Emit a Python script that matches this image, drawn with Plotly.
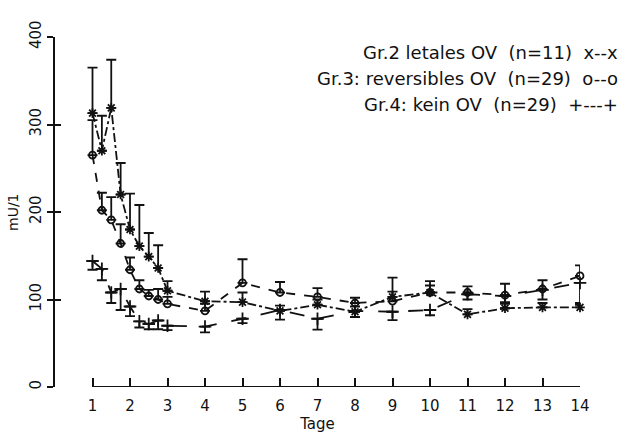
import plotly.graph_objects as go

# Sampling times (days); quarter-day sampling during the first two days
tage = [1, 1.25, 1.5, 1.75, 2, 2.25, 2.5, 2.75, 3, 4, 5, 6, 7, 8, 9, 10, 11, 12, 13, 14]

# Gr.2: letales OV (n=11)
gr2_mean = [313, 270, 319, 220, 180, 161, 149, 136, 110, 98, 97, 87, 94, 86, 103, 108, 83, 90, 91, 91]
gr2_err = [52, 40, 55, 36, 41, 47, 27, 26, 11, 11, 11, 6, 6, 6, 6, 8, 6, 5, 5, 5]

# Gr.3: reversibles OV (n=29)
gr3_mean = [265, 202, 191, 164, 134, 112, 104, 100, 95, 87, 119, 108, 103, 96, 98, 108, 108, 105, 112, 127]
gr3_err = [40, 20, 26, 22, 14, 10, 7, 12, 8, 8, 27, 12, 10, 6, 27, 13, 7, 13, 10, 12]

# Gr.4: kein OV (n=29)
gr4_mean = [144, 135, 108, 112, 92, 75, 72, 76, 70, 69, 78, 88, 78, 87, 86, 88, 106, 104, 111, 119]
gr4_err = [10, 13, 12, 24, 11, 7, 6, 10, 5, 6.5, 5, 11, 12.5, 7, 9.5, 6, 6, 7, 11, 25]

x_ticks = list(range(1, 15))
y_ticks = [0, 100, 200, 300, 400]

legend_lines = [
    "Gr.2 letales OV\u00a0\u00a0(n=11)\u00a0\u00a0x--x",
    "Gr.3: reversibles OV\u00a0\u00a0(n=29)\u00a0\u00a0o--o",
    "Gr.4: kein OV\u00a0\u00a0(n=29)\u00a0\u00a0+---+",
]

INK = "#111111"
FONT = "DejaVu Sans"
LW = 1.8

fig = go.Figure()


def add_series(mean, err, up, dash, symbol, size):
    zeros = [0] * len(err)
    fig.add_trace(go.Scatter(
        x=tage, y=mean, mode="lines+markers",
        line=dict(color=INK, width=LW, dash=dash),
        marker=dict(symbol=symbol, size=size, color=INK,
                    line=dict(color=INK, width=LW)),
        error_y=dict(type="data", symmetric=False,
                     array=err if up else zeros,
                     arrayminus=zeros if up else err,
                     color=INK, thickness=LW, width=5),
        cliponaxis=False, showlegend=False,
    ))


add_series(gr4_mean, gr4_err, False, "longdash", "cross-thin-open", 9)
add_series(gr3_mean, gr3_err, True, "dash", "circle-open", 7)
add_series(gr2_mean, gr2_err, True, "dashdot", "asterisk-open", 8)

# Second copy of the value axis so its ticks cross the axis line
fig.add_trace(go.Scatter(x=[tage[0]], y=[gr2_mean[0]], yaxis="y2",
                         mode="markers", marker=dict(opacity=0),
                         showlegend=False, hoverinfo="skip"))

# Time axis line runs from the first to the last day only
fig.add_shape(type="line", xref="x", yref="y",
              x0=x_ticks[0], x1=x_ticks[-1], y0=y_ticks[0], y1=y_ticks[0],
              line=dict(color=INK, width=2))

for i, txt in enumerate(legend_lines):
    fig.add_annotation(text=txt, xref="paper", yref="paper",
                       x=1.077, y=0.957 - i * 0.075, xanchor="right", yanchor="middle",
                       showarrow=False, font=dict(family=FONT, size=18, color=INK))

# Value axis label
fig.add_annotation(text="mU/1", xref="paper", yref="paper", x=-0.08, y=0.5,
                   textangle=-90, xanchor="center", yanchor="middle", showarrow=False,
                   font=dict(family=FONT, size=14, color=INK))

fig.update_layout(
    width=625, height=440,
    margin=dict(l=55, r=45, t=37, b=53),
    paper_bgcolor="white", plot_bgcolor="white",
    font=dict(family=FONT, color=INK),
    xaxis=dict(range=[0, 14], tickvals=x_ticks, ticktext=[str(v) for v in x_ticks],
               ticks="inside", ticklen=9, tickwidth=2, tickcolor=INK,
               showline=False, showgrid=False, zeroline=False,
               ticklabelstandoff=8, automargin=False,
               tickfont=dict(family=FONT, size=15, color=INK),
               title=dict(text="Tage", font=dict(family=FONT, size=15, color=INK), standoff=4)),
    yaxis=dict(range=[0, 400], tickvals=y_ticks,
               ticks="outside", ticklen=6, tickwidth=2, tickcolor=INK,
               showline=True, linewidth=2, linecolor=INK,
               showgrid=False, zeroline=False, tickangle=-90,
               ticklabelstandoff=0, automargin=False,
               tickfont=dict(family=FONT, size=15, color=INK)),
    yaxis2=dict(range=[0, 400], tickvals=y_ticks, overlaying="y", side="left",
                ticks="inside", ticklen=6, tickwidth=2, tickcolor=INK,
                showticklabels=False, showline=False, showgrid=False, zeroline=False,
                automargin=False),
)

fig.write_html("out.html")
